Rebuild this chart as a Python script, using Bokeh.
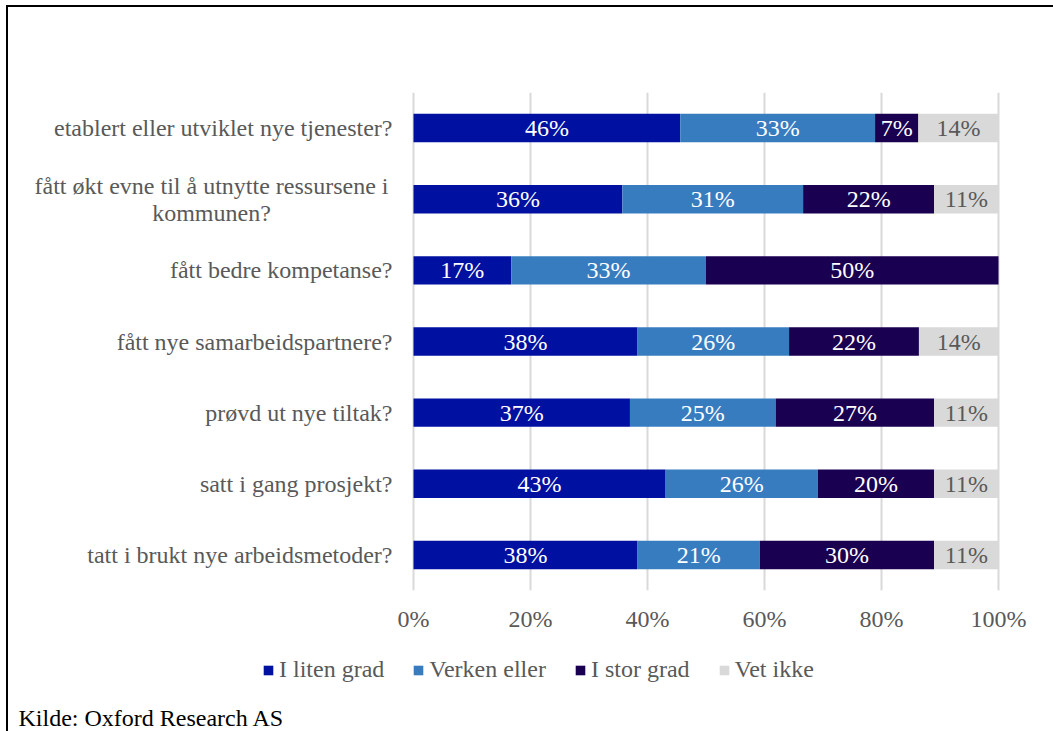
from bokeh.plotting import figure
from bokeh.layouts import column
from bokeh.models import ColumnDataSource, FactorRange, Range1d, Legend, LegendItem, Label, CustomJSTickFormatter
from bokeh.core.properties import value
from bokeh.embed import file_html
from bokeh.resources import INLINE

categories = [
    "etablert eller utviklet nye tjenester?",
    "fått økt evne til å utnytte ressursene i\nkommunen?",
    "fått bedre kompetanse?",
    "fått nye samarbeidspartnere?",
    "prøvd ut nye tiltak?",
    "satt i gang prosjekt?",
    "tatt i brukt nye arbeidsmetoder?",
]
series_names = ["I liten grad", "Verken eller", "I stor grad", "Vet ikke"]
liten = [45.6, 35.7, 16.7, 38.3, 37.0, 43.1, 38.3]
verken = [33.3, 30.9, 33.3, 25.9, 24.9, 26.0, 20.9]
stor = [7.4, 22.4, 50.0, 22.2, 27.1, 19.9, 29.8]
vet = [13.7, 11.0, 0.0, 13.6, 11.0, 11.0, 11.0]
x_ticks = [0, 20, 40, 60, 80, 100]
source_note = "Kilde: Oxford Research AS"

colors = ["#0010A0", "#387CC0", "#1A0050", "#D9D9D9"]
label_colors = ["white", "white", "white", "#595959"]
FONT = "Liberation Serif"
FS = "24px"

# layout geometry (pixels)
W, H_MAIN, H_FOOT = 1053, 645, 86
PLOT_L, PLOT_R = 413, 998
px_per_pct = (PLOT_R - PLOT_L) / 100.0

keys = ["liten", "verken", "stor", "vet"]
data = {"cat": categories, "liten": liten, "verken": verken, "stor": stor, "vet": vet}
source = ColumnDataSource(data)

p = figure(width=W, height=H_MAIN, output_backend="svg", toolbar_location=None,
           x_range=Range1d(-PLOT_L / px_per_pct, (W - PLOT_L) / px_per_pct),
           y_range=FactorRange(factors=categories[::-1]),
           min_border_left=0, min_border_right=0, min_border_top=92, min_border_bottom=55)
p.border_fill_color = None
p.background_fill_color = None
p.outline_line_color = None

renderers = p.hbar_stack(keys, y="cat", height=0.4, color=colors, line_color=None, source=source)

# segment labels
for i, k in enumerate(keys):
    xs, ys, ts = [], [], []
    for j, c in enumerate(categories):
        vals = [data[kk][j] for kk in keys]
        v = vals[i]
        if v <= 0:
            continue
        left = sum(vals[:i])
        xs.append(left + v / 2)
        ys.append(c)
        ts.append(f"{round(v)}%")
    p.text(x=xs, y=ys, text=ts, text_align="center", text_baseline="middle",
           text_font=value(FONT), text_font_size=FS, text_color=label_colors[i])

# category labels (left of the 0% line)
single = [c for c in categories if "\n" not in c]
multi = [c for c in categories if "\n" in c]
p.text(x=[0] * len(single), y=single, text=single, x_offset=-21, text_align="right",
       text_baseline="middle", text_font=value(FONT), text_font_size=FS, text_color="#595959")
p.text(x=[0] * len(multi), y=multi, text=multi, x_offset=-202, text_align="center",
       text_baseline="middle", text_font=value(FONT), text_font_size=FS, text_color="#595959",
       text_line_height=1.05)

p.xaxis.ticker = x_ticks
p.xaxis.formatter = CustomJSTickFormatter(code="return tick + '%';")
p.xaxis.axis_line_color = None
p.xaxis.major_tick_line_color = None
p.xaxis.minor_tick_line_color = None
p.xaxis.major_label_text_font = FONT
p.xaxis.major_label_text_font_size = FS
p.xaxis.major_label_text_color = "#595959"
p.xaxis.major_label_standoff = 9
p.yaxis.visible = False

p.ygrid.grid_line_color = None
p.xgrid.ticker = x_ticks
p.xgrid.grid_line_color = "#D9D9D9"
p.xgrid.grid_line_width = 2

# legend + source note panel
nan = float("nan")
p2 = figure(width=W, height=H_FOOT, output_backend="svg", toolbar_location=None,
            x_range=(0, 1), y_range=(0, 1), min_border=0)
p2.border_fill_color = None
p2.background_fill_color = None
p2.outline_line_color = None
p2.axis.visible = False
p2.grid.visible = False
proxies = [p2.quad(left=[nan], right=[nan], top=[nan], bottom=[nan], color=c, line_color=None)
           for c in colors]
legend = Legend(items=[LegendItem(label=n, renderers=[r]) for n, r in zip(series_names, proxies)],
                orientation="horizontal", location=(262, 48), border_line_color=None,
                background_fill_alpha=0, padding=0, margin=0, spacing=28,
                glyph_width=12, glyph_height=12, label_standoff=5,
                label_text_font=FONT, label_text_font_size=FS, label_text_color="#595959")
p2.add_layout(legend, "center")
p2.add_layout(Label(x=18, y=14, x_units="screen", y_units="screen", text=source_note,
                    text_align="left", text_baseline="middle", text_font=FONT,
                    text_font_size=FS, text_color="black"))

layout = column(p, p2, spacing=0)
layout.styles = {"box-shadow": "inset 6px 5px 0 0 white, inset 8px 7px 0 0 black",
                 "background-color": "white"}

open("out.html", "w").write(file_html(layout, INLINE))
